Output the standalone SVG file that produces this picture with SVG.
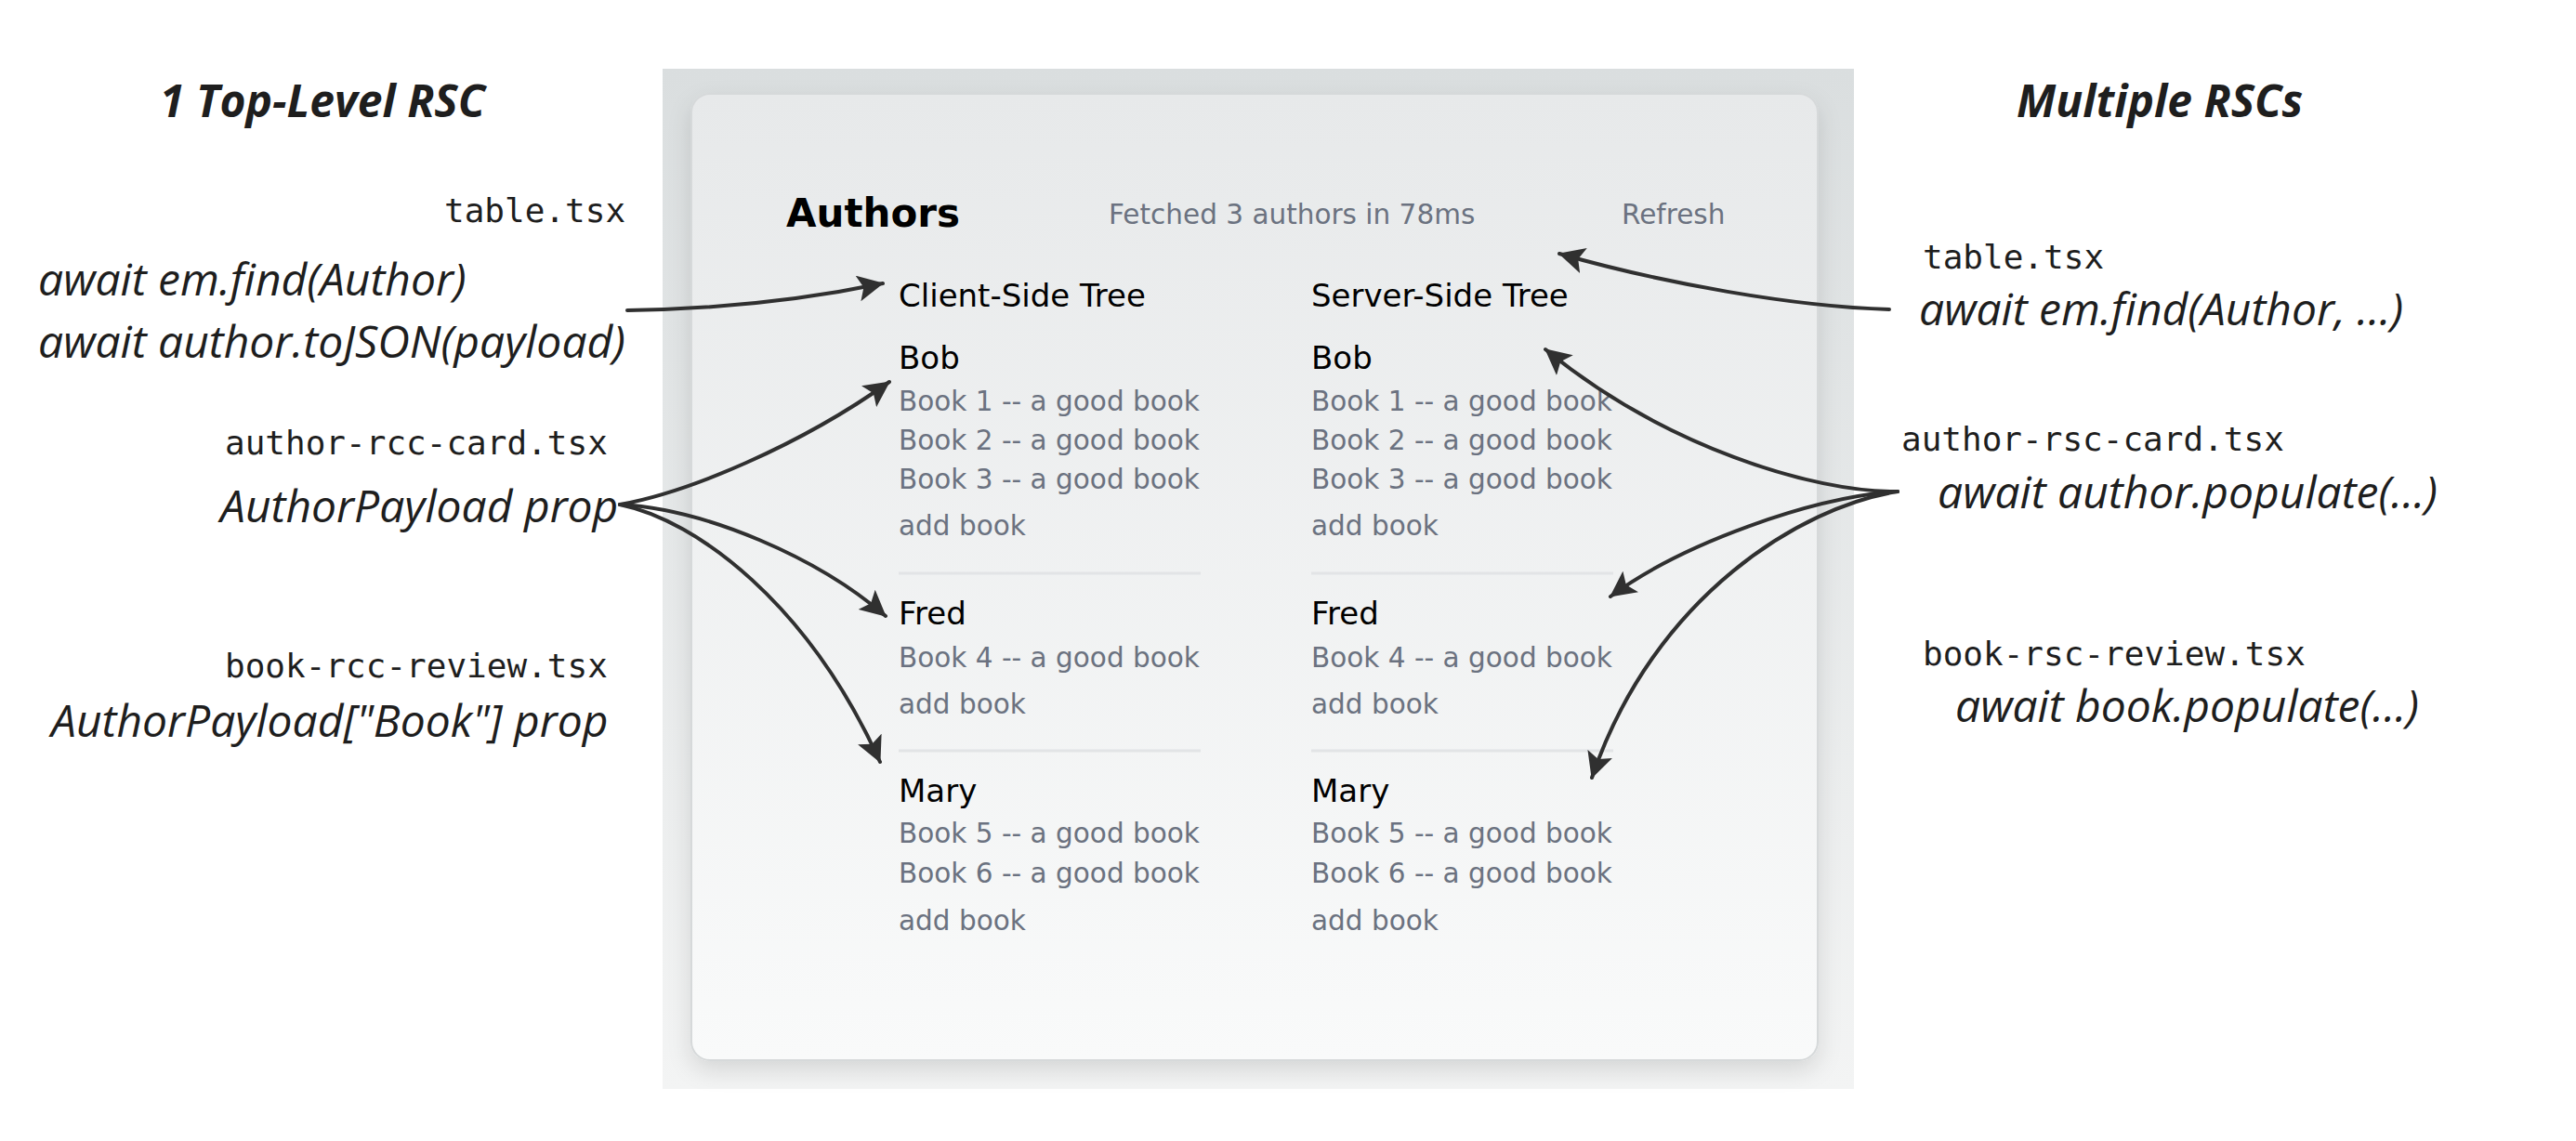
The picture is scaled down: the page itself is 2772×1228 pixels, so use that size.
<svg xmlns="http://www.w3.org/2000/svg" width="2772" height="1228" viewBox="0 0 2772 1228">
<defs>
<linearGradient id="outerG" x1="0" y1="0" x2="0" y2="1">
<stop offset="0" stop-color="#dadedf"/>
<stop offset="1" stop-color="#f3f4f4"/>
</linearGradient>
<linearGradient id="cardG" x1="0" y1="0" x2="0" y2="1">
<stop offset="0" stop-color="#e7e9ea"/>
<stop offset="1" stop-color="#f9fafa"/>
</linearGradient>
<filter id="shadow" x="-5%" y="-5%" width="110%" height="115%">
<feDropShadow dx="0" dy="10" stdDeviation="12" flood-color="#000" flood-opacity="0.12"/>
</filter>
<marker id="arrow" viewBox="0 0 28 28" refX="27" refY="14" markerWidth="28" markerHeight="28" markerUnits="userSpaceOnUse" orient="auto">
<path d="M0,0 L28,14 L0,28 L6,14 z" fill="#303030"/>
</marker>
</defs>
<style>
.title{font-family:"Open Sans","DejaVu Sans",sans-serif;font-weight:bold;font-style:italic;font-size:48px;fill:#1e1e1e}
.code{font-family:"Open Sans","DejaVu Sans",sans-serif;font-style:italic;font-size:48px;fill:#1e1e1e}
.mono{font-family:"DejaVu Sans Mono","Liberation Mono",monospace;font-size:36px;fill:#1e1e1e}
.head{font-family:"DejaVu Sans",sans-serif;font-weight:bold;font-size:42px;fill:#000}
.meta{font-family:"DejaVu Sans",sans-serif;font-size:29.5px;fill:#6b7280}
.name{font-family:"DejaVu Sans",sans-serif;font-size:34px;fill:#000}
.book{font-family:"DejaVu Sans",sans-serif;font-size:29.5px;fill:#6b7280}
.sep{stroke:#e2e4e6;stroke-width:3}
.conn{fill:none;stroke:#303030;stroke-width:4;stroke-linecap:round;marker-end:url(#arrow)}
</style>
<rect width="2772" height="1228" fill="#ffffff"/>

<g id="panel">
<rect x="713" y="74" width="1282" height="1098" fill="url(#outerG)"/>
<rect x="744" y="101" width="1212" height="1040" rx="20" fill="url(#cardG)" stroke="#d6d9da" stroke-width="2" filter="url(#shadow)"/>
</g>

<g id="card-header">
<text class="head" x="846" y="244">Authors</text>
<text class="meta" x="1193" y="241">Fetched 3 authors in 78ms</text>
<text class="meta" x="1745" y="241">Refresh</text>
</g>

<g id="client-tree">
<text class="name" x="967" y="330">Client-Side Tree</text>
<text class="name" x="967" y="397">Bob</text>
<text class="book" x="967" y="442">Book 1 -- a good book</text>
<text class="book" x="967" y="484">Book 2 -- a good book</text>
<text class="book" x="967" y="526">Book 3 -- a good book</text>
<text class="book" x="967" y="576">add book</text>
<line class="sep" x1="967" y1="617" x2="1292" y2="617"/>
<text class="name" x="967" y="672">Fred</text>
<text class="book" x="967" y="718">Book 4 -- a good book</text>
<text class="book" x="967" y="768">add book</text>
<line class="sep" x1="967" y1="808" x2="1292" y2="808"/>
<text class="name" x="967" y="863">Mary</text>
<text class="book" x="967" y="907">Book 5 -- a good book</text>
<text class="book" x="967" y="950">Book 6 -- a good book</text>
<text class="book" x="967" y="1001">add book</text>
</g>

<g id="server-tree">
<text class="name" x="1411" y="330">Server-Side Tree</text>
<text class="name" x="1411" y="397">Bob</text>
<text class="book" x="1411" y="442">Book 1 -- a good book</text>
<text class="book" x="1411" y="484">Book 2 -- a good book</text>
<text class="book" x="1411" y="526">Book 3 -- a good book</text>
<text class="book" x="1411" y="576">add book</text>
<line class="sep" x1="1411" y1="617" x2="1736" y2="617"/>
<text class="name" x="1411" y="672">Fred</text>
<text class="book" x="1411" y="718">Book 4 -- a good book</text>
<text class="book" x="1411" y="768">add book</text>
<line class="sep" x1="1411" y1="808" x2="1736" y2="808"/>
<text class="name" x="1411" y="863">Mary</text>
<text class="book" x="1411" y="907">Book 5 -- a good book</text>
<text class="book" x="1411" y="950">Book 6 -- a good book</text>
<text class="book" x="1411" y="1001">add book</text>
</g>

<g id="left-labels">
<text class="title" x="172" y="126">1 Top-Level RSC</text>
<text class="mono" x="478" y="239">table.tsx</text>
<text class="code" x="41" y="318">await em.find(Author)</text>
<text class="code" x="41" y="385">await author.toJSON(payload)</text>
<text class="mono" x="242" y="489">author-rcc-card.tsx</text>
<text class="code" x="237" y="562">AuthorPayload prop</text>
<text class="mono" x="242" y="729">book-rcc-review.tsx</text>
<text class="code" x="55" y="793">AuthorPayload["Book"] prop</text>
</g>

<g id="right-labels">
<text class="title" x="2170" y="126">Multiple RSCs</text>
<text class="mono" x="2069" y="289">table.tsx</text>
<text class="code" x="2065" y="350">await em.find(Author, ...)</text>
<text class="mono" x="2046" y="485">author-rsc-card.tsx</text>
<text class="code" x="2085" y="547">await author.populate(...)</text>
<text class="mono" x="2069" y="716">book-rsc-review.tsx</text>
<text class="code" x="2104" y="777">await book.populate(...)</text>
</g>

<g id="connectors">
<path class="conn" d="M 675 334 Q 820 332 950 305"/>
<path class="conn" d="M 667 543 C 740 530 860 480 957 411"/>
<path class="conn" d="M 667 543 C 760 548 880 600 953 663"/>
<path class="conn" d="M 667 543 C 750 560 870 650 947 820"/>
<path class="conn" d="M 2033 333 C 1930 330 1790 305 1678 273"/>
<path class="conn" d="M 2042 529 C 1950 530 1790 480 1663 376"/>
<path class="conn" d="M 2042 529 C 1950 535 1810 585 1733 642"/>
<path class="conn" d="M 2042 529 C 1940 545 1780 640 1713 837"/>
</g>
</svg>
